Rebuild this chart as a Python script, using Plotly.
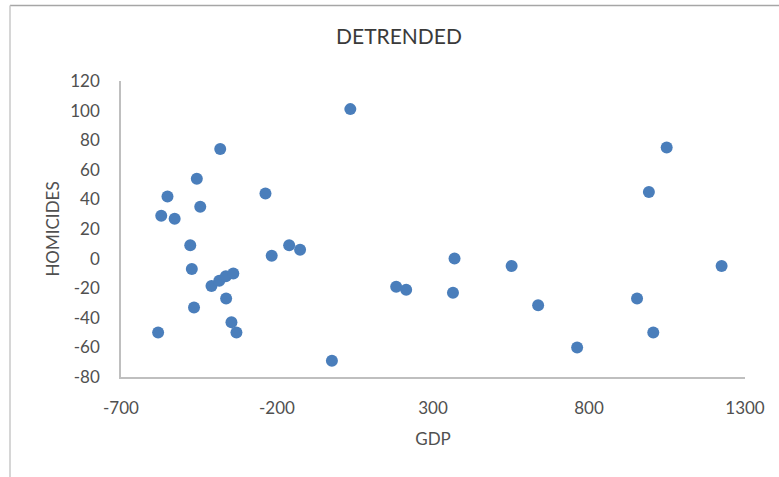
import plotly.graph_objects as go

# Detrended GDP vs detrended homicides
gdp = [-382, -457, -551, -237, -446, -571, -528, -478, -473, -217, -161, -126,
       -410, -385, -364, -340, -363, -466, -346, -330, -581,
       35, -24, 182, 214, 369, 364, 552, 1049, 992, 1225, 637, 954, 1006, 762]
homicides = [74, 54, 42, 44, 35, 29, 27, 9, -7, 2, 9, 6,
             -18.5, -15, -12, -10, -27, -33, -43, -50, -50,
             101, -69, -19, -21, 0, -23, -5, 75, 45, -5, -31.5, -27, -50, -60]

x_ticks = [-700, -200, 300, 800, 1300]
y_ticks = [-80, -60, -40, -20, 0, 20, 40, 60, 80, 100, 120]

FONT = "Lato, 'Open Sans', sans-serif"
TEXT = "#505050"
AXIS = "#bfbfbf"

fig = go.Figure(go.Scatter(
    x=gdp, y=homicides, mode="markers",
    marker=dict(color="#4a7ebb", size=12, line=dict(width=0)),
    hoverinfo="x+y",
))

fig.update_layout(
    width=779, height=477,
    margin=dict(l=121, r=34, t=81, b=100),
    paper_bgcolor="white", plot_bgcolor="white",
    showlegend=False,
    font=dict(family=FONT, color=TEXT),
    title=dict(text="DETRENDED", x=399 / 779, xanchor="center",
               y=1 - 37 / 477, yanchor="middle",
               font=dict(family=FONT, size=21, color="#3a3a3a")),
    shapes=[
        # chart frame (top and left edges)
        dict(type="line", xref="paper", yref="paper",
             x0=(10 - 121) / 624, x1=1.1, y0=(376.5 - 5) / 296, y1=(376.5 - 5) / 296,
             line=dict(color="#a6a6a6", width=1.5)),
        dict(type="line", xref="paper", yref="paper",
             x0=(10 - 121) / 624, x1=(10 - 121) / 624,
             y0=(376.5 - 5) / 296, y1=(376.5 - 477) / 296,
             line=dict(color="#c8c8c8", width=1.5)),
    ],
)

fig.update_xaxes(
    range=[-700, 1300], tickvals=x_ticks, ticktext=[str(v) for v in x_ticks],
    showgrid=False, zeroline=False, showline=True, linecolor=AXIS, linewidth=1.5,
    ticks="", ticklabelstandoff=15, tickfont=dict(size=17, color=TEXT),
    title=dict(text="GDP", font=dict(size=17, color=TEXT), standoff=16),
)
fig.update_yaxes(
    range=[-80, 120], tickvals=y_ticks, ticktext=[str(v) for v in y_ticks],
    showgrid=False, zeroline=False, showline=True, linecolor=AXIS, linewidth=1.5,
    ticks="", ticklabelstandoff=16, tickfont=dict(size=17, color=TEXT),
    title=dict(text="HOMICIDES", font=dict(size=17, color=TEXT), standoff=6),
)

fig.write_html("out.html")
